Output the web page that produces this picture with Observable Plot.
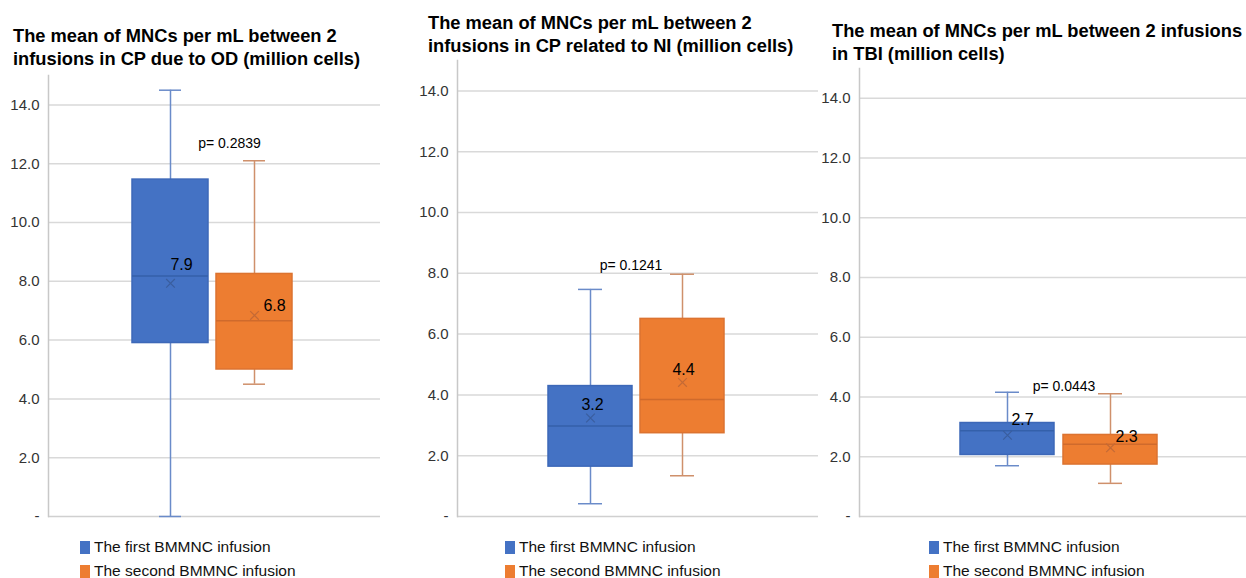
<!DOCTYPE html>
<html>
<head>
<meta charset="utf-8">
<script src="https://cdn.jsdelivr.net/npm/d3@7"></script>
<script src="https://cdn.jsdelivr.net/npm/@observablehq/plot@0.6"></script>
<style>
  html, body { margin: 0; padding: 0; background: #fff; overflow: hidden; }
  body { width: 1246px; height: 578px; position: relative; font-family: "Liberation Sans", Arial, sans-serif; }
  .title { position: absolute; font-weight: bold; font-size: 18.3px; line-height: 23px; color: #000; white-space: nowrap; }
  .plot { position: absolute; }
  .plot svg { max-width: none !important; }
  .legend { position: absolute; font-size: 15.5px; color: #111; }
  .legend .row { height: 24px; line-height: 24px; display: flex; align-items: center; white-space: nowrap; }
  .legend .sw { width: 10px; height: 13px; margin-right: 4px; display: inline-block; }
</style>
</head>
<body>
<script>
// ---------- data ----------
const series = ["The first BMMNC infusion", "The second BMMNC infusion"];
const panelTitles = [
  ["The mean of MNCs per mL between 2", "infusions in CP due to OD (million cells)"],
  ["The mean of MNCs per mL between 2", "infusions in CP related to NI (million cells)"],
  ["The mean of MNCs per mL between 2 infusions", "in TBI (million cells)"]
];
const pValueLabels = ["p= 0.2839", "p= 0.1241", "p= 0.0443"];
const yTicks = [0, 2, 4, 6, 8, 10, 12, 14];
const yTickLabels = ["-", "2.0", "4.0", "6.0", "8.0", "10.0", "12.0", "14.0"];

// CP due to OD
const odMin = [0.0, 4.5];
const odQ1 = [5.9, 5.0];
const odMedian = [8.18, 6.66];
const odQ3 = [11.46, 8.25];
const odMax = [14.5, 12.1];
const odMean = [7.93, 6.84];
// CP related to NI
const niMin = [0.42, 1.34];
const niQ1 = [1.64, 2.74];
const niMedian = [2.98, 3.85];
const niQ3 = [4.29, 6.5];
const niMax = [7.47, 7.97];
const niMean = [3.24, 4.41];
// TBI
const tbiMin = [1.70, 1.11];
const tbiQ1 = [2.06, 1.74];
const tbiMedian = [2.87, 2.42];
const tbiQ3 = [3.13, 2.73];
const tbiMax = [4.16, 4.11];
const tbiMean = [2.72, 2.30];

// ---------- styles ----------
const fills = ["#4472C4", "#ED7D31"];
const boxStrokes = ["#3d68b8", "#dc7330"];
const whiskerColors = ["#6a8bc9", "#cf906b"];
const medianColors = ["#3460aa", "#cf6a2c"];
const meanColors = ["#3a5e9e", "#c46a36"];

const stats = [
  [odMin, odQ1, odMedian, odQ3, odMax, odMean],
  [niMin, niQ1, niMedian, niQ3, niMax, niMean],
  [tbiMin, tbiQ1, tbiMedian, tbiQ3, tbiMax, tbiMean]
];

const layouts = [
  {left: 0, top: 70, width: 390, height: 460, mL: 48, mR: 10, mT: 5, mB: 14, capInset: 27,
   labelOff: [[11, -18], [20, -10]], pOff: [15, 68], titleLeft: 13, titleTop: 24, legendLeft: 80},
  {left: 400, top: 55, width: 430, height: 475, mL: 57, mR: 12, mT: 5, mB: 14, capInset: 30,
   labelOff: [[2, -13], [1, -13]], pOff: [-7, 205], titleLeft: 428, titleTop: 10.5, legendLeft: 505},
  {left: 820, top: 63, width: 442, height: 467, mL: 39, mR: 0, mT: 5, mB: 14, capInset: 35,
   labelOff: [[15, -15], [16, -11]], pOff: [3, 318], titleLeft: 832, titleTop: 18.5, legendLeft: 929}
];

stats.forEach((s, p) => {
  const L = layouts[p];
  const [mins, q1s, meds, q3s, maxs, means] = s;
  const rows = series.map((name, i) => ({
    series: name, min: mins[i], q1: q1s[i], median: meds[i], q3: q3s[i], max: maxs[i], mean: means[i]
  }));
  const tickRows = yTicks.map((v, i) => ({value: v, label: yTickLabels[i]}));

  const marks = [
    Plot.gridY(yTicks.filter(d => d > 0), {stroke: "#d9d9d9", strokeOpacity: 1, strokeWidth: 1.5}),
    Plot.ruleY([0], {stroke: "#d0d0d0", strokeWidth: 1.5}),
    Plot.frame({anchor: "left", stroke: "#c8c8c8", strokeWidth: 1.5}),
    Plot.text(tickRows, {y: "value", text: "label", frameAnchor: "left", textAnchor: "end",
      dx: -9, fontSize: 15, fill: "#333"}),
  ];
  rows.forEach((r, i) => {
    const d = [r];
    marks.push(
      Plot.ruleX(d, {x: "series", y1: "min", y2: "max", stroke: whiskerColors[i], strokeWidth: 1.5}),
      Plot.tickY(d, {x: "series", y: "min", stroke: whiskerColors[i], strokeWidth: 1.5,
        insetLeft: L.capInset, insetRight: L.capInset}),
      Plot.tickY(d, {x: "series", y: "max", stroke: whiskerColors[i], strokeWidth: 1.5,
        insetLeft: L.capInset, insetRight: L.capInset}),
      Plot.barY(d, {x: "series", y1: "q1", y2: "q3", fill: fills[i], stroke: boxStrokes[i], strokeWidth: 1.5}),
      Plot.tickY(d, {x: "series", y: "median", stroke: medianColors[i], strokeWidth: 1.5}),
      Plot.dot(d, {x: "series", y: "mean", symbol: "times", r: 4, stroke: meanColors[i], strokeWidth: 1.2}),
      Plot.text(d, {x: "series", y: "mean", text: v => v.mean.toFixed(1), fontSize: 16, fill: "#000",
        dx: L.labelOff[i][0], dy: L.labelOff[i][1]})
    );
  });
  marks.push(
    Plot.text([pValueLabels[p]], {text: d => d, frameAnchor: "top", lineAnchor: "middle",
      dx: L.pOff[0], dy: L.pOff[1], fontSize: 14, fill: "#000"})
  );

  const chart = Plot.plot({
    width: L.width,
    height: L.height,
    marginLeft: L.mL,
    marginRight: L.mR,
    marginTop: L.mT,
    marginBottom: L.mB,
    x: {domain: series, paddingInner: 0.09, paddingOuter: 1.0, align: 0.49, axis: null},
    y: {domain: [0, 15], axis: null},
    style: {fontFamily: "'Liberation Sans', Arial, sans-serif", fontSize: "15px", color: "#333",
      background: "transparent", overflow: "visible", maxWidth: "none"},
    marks
  });
  const wrap = document.createElement("div");
  wrap.className = "plot";
  wrap.style.left = L.left + "px";
  wrap.style.top = L.top + "px";
  wrap.style.width = L.width + "px";
  wrap.style.height = L.height + "px";
  wrap.appendChild(chart);
  document.body.appendChild(wrap);

  const t = document.createElement("div");
  t.className = "title";
  t.style.left = L.titleLeft + "px";
  t.style.top = L.titleTop + "px";
  t.innerHTML = panelTitles[p].join("<br>");
  document.body.appendChild(t);

  const lg = document.createElement("div");
  lg.className = "legend";
  lg.style.left = L.legendLeft + "px";
  lg.style.top = "535px";
  series.forEach((name, i) => {
    const row = document.createElement("div");
    row.className = "row";
    const sw = document.createElement("span");
    sw.className = "sw";
    sw.style.background = fills[i];
    const tx = document.createElement("span");
    tx.textContent = name;
    row.appendChild(sw);
    row.appendChild(tx);
    lg.appendChild(row);
  });
  document.body.appendChild(lg);
});
</script>
</body>
</html>
